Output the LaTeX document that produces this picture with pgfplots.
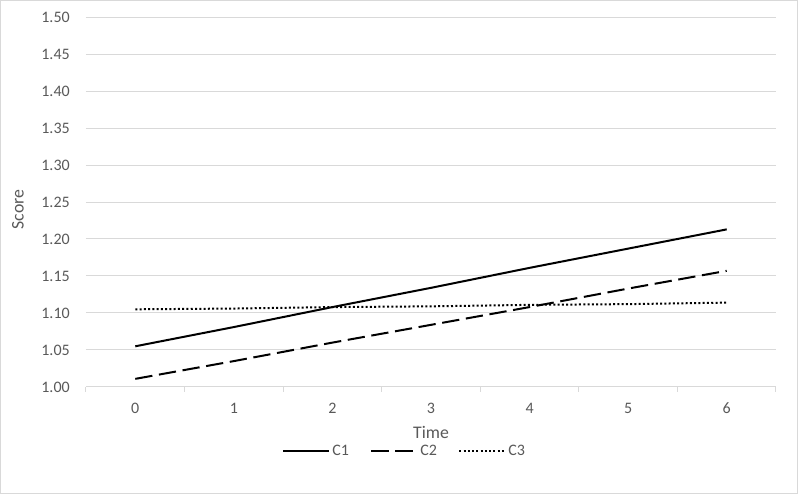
\documentclass[border=0pt]{standalone}
\usepackage{fontspec}
\setmainfont{Carlito}
\usepackage{pgfplots}
\pgfplotsset{compat=1.18}
\definecolor{gridgray}{HTML}{D9D9D9}
\definecolor{labelgray}{HTML}{595959}
\begin{document}
\begin{tikzpicture}
  \path[use as bounding box] (-64.5pt,-81.75pt) rectangle (535.5pt,290.25pt);
  \begin{axis}[
    at={(0pt,0pt)}, anchor=south west,
    scale only axis,
    width=517.5pt, height=277.5pt,
    xmin=-0.5, xmax=6.5,
    ymin=1.00, ymax=1.50,
    axis x line*=bottom, axis y line*=left,
    y axis line style={draw=none},
    x axis line style={draw=gridgray, line width=0.75pt},
    xtick={0,1,2,3,4,5,6},
    minor xtick={-0.5,0.5,1.5,2.5,3.5,4.5,5.5,6.5},
    ytick={1.00,1.05,1.10,1.15,1.20,1.25,1.30,1.35,1.40,1.45,1.50},
    major tick length=0pt,
    minor tick length=3.75pt,
    tick align=outside,
    minor tick style={draw=gridgray, line width=0.75pt},
    ymajorgrids,
    major grid style={draw=gridgray, line width=0.75pt},
    yticklabel style={/pgf/number format/fixed, /pgf/number format/fixed zerofill,
      /pgf/number format/precision=2, anchor=east, inner sep=0pt, xshift=-12pt},
    xticklabel style={anchor=center, inner sep=0pt, yshift=-15.75pt},
    /pgf/number format/assume math mode=true,
    tick label style={font=\fontsize{12pt}{14pt}\selectfont, color=labelgray},
    label style={font=\fontsize{13.3pt}{15pt}\selectfont, color=labelgray},
    xlabel={Time},
    ylabel={Score},
    xlabel style={at={(axis description cs:0.5,-0.124)}, anchor=center, inner sep=0pt},
    ylabel style={at={(axis description cs:-0.0986,0.48)}, anchor=center, inner sep=0pt},
    legend columns=3,
    legend style={draw=none, fill=none, at={(axis description cs:0.4623,-0.1735)}, anchor=center,
      font=\fontsize{12pt}{14pt}\selectfont, text=labelgray,
      nodes={inner ysep=0pt},
      /tikz/every even column/.append style={column sep=14pt}},
    legend image code/.code={\draw[#1] (0pt,0pt) -- (34pt,0pt);},
    clip=false,
  ]
    \addplot[black, line width=1.5pt] coordinates {
      (0,1.055) (1,1.081) (2,1.108) (3,1.134) (4,1.161) (5,1.187) (6,1.213)};
    \addlegendentry{C1}
    \addplot[black, line width=1.5pt, dash pattern=on 13pt off 5pt] coordinates {
      (0,1.011) (1,1.035) (2,1.060) (3,1.084) (4,1.108) (5,1.133) (6,1.157)};
    \addlegendentry{C2}
    \addplot[black, line width=1.5pt, dash pattern=on 1.5pt off 1.7pt] coordinates {
      (0,1.105) (1,1.106) (2,1.108) (3,1.109) (4,1.111) (5,1.112) (6,1.114)};
    \addlegendentry{C3}
  \end{axis}
  \draw[gridgray, line width=0.75pt] (-63.75pt,-79.5pt) rectangle (533.25pt,289.5pt);
\end{tikzpicture}
\end{document}
